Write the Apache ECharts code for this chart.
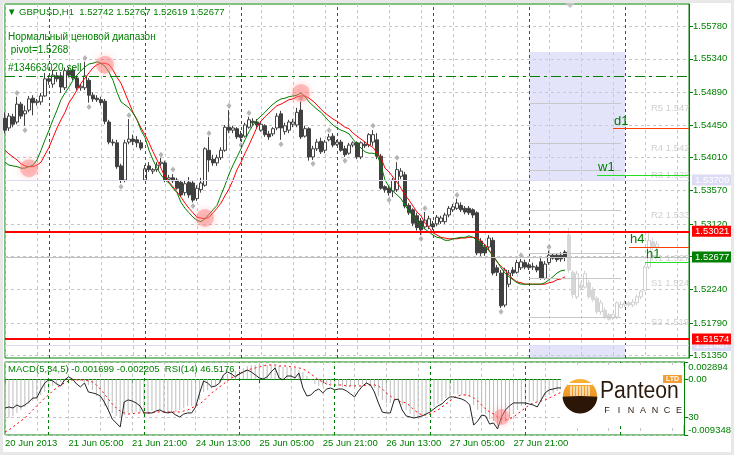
<!DOCTYPE html>
<html><head><meta charset="utf-8">
<script src="https://cdn.jsdelivr.net/npm/echarts@6/dist/echarts.min.js"></script>
<style>html,body{margin:0;padding:0;background:#fff;}#c{width:734px;height:455px;}</style>
</head><body><div id="c"></div>
<script>
// ---------- DATA ----------
const symbolTitle = 'GBPUSD,H1';
// candles [open, close, low, high], hourly bars from 20 Jun 2013 13:00
const candles = [
[1.5454,1.5438,1.5434,1.5462],[1.5441,1.5457,1.5437,1.5461],[1.5456,1.5446,1.5442,1.5460],[1.5449,1.5473,1.5446,1.5483],
[1.5473,1.5457,1.5453,1.5476],[1.5460,1.5464,1.5444,1.5471],[1.5465,1.5480,1.5462,1.5484],[1.5481,1.5475,1.5458,1.5485],
[1.5475,1.5477,1.5471,1.5480],[1.5476,1.5484,1.5472,1.5488],[1.5484,1.5507,1.5483,1.5515],[1.5507,1.5504,1.5499,1.5512],
[1.5500,1.5512,1.5495,1.5519],[1.5511,1.5507,1.5503,1.5516],[1.5511,1.5496,1.5488,1.5516],[1.5495,1.5518,1.5492,1.5522],
[1.5518,1.5512,1.5509,1.5523],[1.5519,1.5508,1.5505,1.5524],[1.5508,1.5495,1.5492,1.5512],[1.5495,1.5497,1.5491,1.5500],
[1.5495,1.5511,1.5492,1.5530],[1.5505,1.5485,1.5475,1.5508],[1.5485,1.5480,1.5476,1.5489],[1.5481,1.5479,1.5476,1.5485],
[1.5479,1.5475,1.5471,1.5483],[1.5477,1.5450,1.5446,1.5480],[1.5449,1.5422,1.5419,1.5452],[1.5422,1.5421,1.5417,1.5426],
[1.5421,1.5389,1.5386,1.5425],[1.5390,1.5371,1.5367,1.5393],[1.5371,1.5421,1.5368,1.5425],[1.5422,1.5426,1.5419,1.5453],
[1.5426,1.5423,1.5418,1.5432],[1.5425,1.5421,1.5415,1.5430],[1.5421,1.5414,1.5411,1.5425],[1.5371,1.5386,1.5370,1.5391],
[1.5390,1.5385,1.5382,1.5395],[1.5383,1.5385,1.5379,1.5387],[1.5385,1.5391,1.5382,1.5395],[1.5393,1.5395,1.5390,1.5401],
[1.5394,1.5371,1.5368,1.5397],[1.5372,1.5374,1.5368,1.5378],[1.5374,1.5370,1.5367,1.5379],[1.5371,1.5360,1.5358,1.5374],
[1.5368,1.5351,1.5348,1.5371],[1.5354,1.5366,1.5350,1.5371],[1.5368,1.5351,1.5347,1.5375],[1.5367,1.5344,1.5341,1.5371],
[1.5346,1.5360,1.5343,1.5364],[1.5358,1.5367,1.5354,1.5374],[1.5364,1.5413,1.5362,1.5415],[1.5411,1.5398,1.5382,1.5429],
[1.5399,1.5394,1.5390,1.5405],[1.5394,1.5401,1.5390,1.5405],[1.5401,1.5411,1.5398,1.5415],[1.5411,1.5442,1.5409,1.5445],
[1.5442,1.5438,1.5434,1.5465],[1.5438,1.5441,1.5434,1.5444],[1.5440,1.5429,1.5426,1.5442],[1.5432,1.5428,1.5423,1.5437],
[1.5430,1.5445,1.5428,1.5448],[1.5442,1.5452,1.5440,1.5456],[1.5450,1.5448,1.5444,1.5454],[1.5449,1.5445,1.5441,1.5453],
[1.5438,1.5446,1.5436,1.5450],[1.5444,1.5432,1.5429,1.5446],[1.5433,1.5429,1.5425,1.5437],[1.5433,1.5440,1.5430,1.5442],
[1.5441,1.5457,1.5438,1.5461],[1.5460,1.5441,1.5425,1.5464],[1.5436,1.5444,1.5432,1.5448],[1.5438,1.5449,1.5434,1.5452],
[1.5446,1.5449,1.5442,1.5453],[1.5445,1.5462,1.5442,1.5468],[1.5465,1.5429,1.5426,1.5476],[1.5430,1.5440,1.5428,1.5444],
[1.5440,1.5402,1.5397,1.5442],[1.5402,1.5413,1.5398,1.5417],[1.5413,1.5422,1.5410,1.5426],[1.5423,1.5409,1.5406,1.5428],
[1.5411,1.5422,1.5407,1.5425],[1.5425,1.5429,1.5423,1.5433],[1.5430,1.5418,1.5415,1.5434],[1.5419,1.5422,1.5417,1.5425],
[1.5422,1.5411,1.5409,1.5425],[1.5413,1.5405,1.5402,1.5417],[1.5407,1.5418,1.5405,1.5421],[1.5418,1.5421,1.5415,1.5423],
[1.5421,1.5402,1.5399,1.5423],[1.5402,1.5421,1.5399,1.5423],[1.5419,1.5417,1.5414,1.5423],[1.5418,1.5432,1.5415,1.5434],
[1.5422,1.5432,1.5417,1.5438],[1.5425,1.5403,1.5399,1.5434],[1.5403,1.5360,1.5358,1.5406],[1.5362,1.5358,1.5354,1.5364],
[1.5360,1.5354,1.5350,1.5363],[1.5356,1.5371,1.5348,1.5374],[1.5358,1.5385,1.5355,1.5395],[1.5376,1.5383,1.5372,1.5387],
[1.5378,1.5336,1.5333,1.5382],[1.5337,1.5327,1.5324,1.5340],[1.5331,1.5313,1.5309,1.5333],[1.5323,1.5307,1.5303,1.5327],
[1.5316,1.5304,1.5297,1.5320],[1.5308,1.5317,1.5305,1.5328],[1.5309,1.5319,1.5305,1.5323],[1.5312,1.5308,1.5304,1.5316],
[1.5312,1.5321,1.5309,1.5324],[1.5315,1.5320,1.5312,1.5323],[1.5315,1.5324,1.5312,1.5327],[1.5324,1.5333,1.5321,1.5336],
[1.5331,1.5335,1.5328,1.5339],[1.5333,1.5340,1.5331,1.5346],[1.5337,1.5331,1.5328,1.5341],[1.5333,1.5328,1.5325,1.5336],
[1.5333,1.5327,1.5324,1.5336],[1.5331,1.5324,1.5320,1.5333],[1.5327,1.5273,1.5270,1.5329],[1.5289,1.5273,1.5269,1.5293],
[1.5281,1.5273,1.5269,1.5285],[1.5281,1.5293,1.5277,1.5297],[1.5290,1.5246,1.5243,1.5294],[1.5253,1.5247,1.5242,1.5257],
[1.5246,1.5202,1.5199,1.5250],[1.5203,1.5250,1.5200,1.5253],[1.5231,1.5246,1.5227,1.5250],[1.5250,1.5246,1.5242,1.5254],
[1.5247,1.5260,1.5245,1.5264],[1.5253,1.5261,1.5250,1.5265],[1.5260,1.5254,1.5251,1.5264],[1.5257,1.5253,1.5250,1.5260],
[1.5254,1.5255,1.5250,1.5260],[1.5254,1.5250,1.5247,1.5257],[1.5261,1.5239,1.5237,1.5266],[1.5239,1.5258,1.5237,1.5262],
[1.5260,1.5270,1.5257,1.5276],[1.5270,1.5266,1.5264,1.5273],[1.5270,1.5264,1.5261,1.5273],[1.5270,1.5265,1.5261,1.5274],
[1.52742,1.52677,1.52619,1.52767]
];
// projected (ghost) candles starting at bar 141
const ghostStart = 141;
const ghostCandles = [
[1.5297,1.5250,1.5246,1.5307],[1.5247,1.5217,1.5212,1.5250],[1.5214,1.5245,1.5211,1.5249],[1.5230,1.5226,1.5222,1.5234],
[1.5227,1.5245,1.5225,1.5249],[1.5233,1.5214,1.5211,1.5237],[1.5223,1.5210,1.5207,1.5227],[1.5212,1.5194,1.5191,1.5215],
[1.5194,1.5206,1.5190,1.5210],[1.5196,1.5187,1.5184,1.5200],[1.5190,1.5184,1.5182,1.5192],[1.5186,1.5190,1.5183,1.5192],
[1.5187,1.5206,1.5184,1.5208],[1.5200,1.5204,1.5198,1.5208],[1.5203,1.5206,1.5200,1.5210],[1.5206,1.5203,1.5200,1.5208],
[1.5203,1.5207,1.5200,1.5211],[1.5206,1.5214,1.5203,1.5217],[1.5214,1.5221,1.5211,1.5223],[1.5223,1.5254,1.5221,1.5257],
[1.5254,1.5290,1.5251,1.5301],[1.5288,1.5281,1.5277,1.5294],[1.5281,1.5285,1.5277,1.5289]
];
const maFast = [
1.5395,1.5391,1.5390,1.5389,1.5387,1.5387,1.5389,1.5391,1.5398,1.5411,
1.5425,1.5438,1.5452,1.5465,1.5479,1.5488,1.5496,1.5505,1.5512,1.5518,
1.5523,1.5527,1.5528,1.5530,1.5528,1.5524,1.5516,1.5505,1.5489,1.5476,
1.5472,1.5468,1.5461,1.5452,1.5438,1.5428,1.5411,1.5398,1.5387,1.5378,
1.5371,1.5367,1.5360,1.5354,1.5341,1.5333,1.5327,1.5321,1.5317,1.5315,
1.5319,1.5325,1.5331,1.5337,1.5351,1.5364,1.5379,1.5391,1.5402,1.5413,
1.5425,1.5436,1.5445,1.5452,1.5457,1.5462,1.5468,1.5473,1.5477,1.5480,
1.5481,1.5483,1.5484,1.5485,1.5488,1.5483,1.5476,1.5471,1.5466,1.5462,
1.5456,1.5450,1.5445,1.5441,1.5438,1.5436,1.5433,1.5426,1.5419,1.5414,
1.5409,1.5407,1.5407,1.5405,1.5391,1.5371,1.5362,1.5356,1.5351,1.5346,
1.5337,1.5329,1.5323,1.5316,1.5309,1.5305,1.5301,1.5297,1.5294,1.5293,
1.5290,1.5290,1.5292,1.5293,1.5294,1.5294,1.5296,1.5294,1.5290,1.5285,
1.5281,1.5276,1.5269,1.5262,1.5253,1.5246,1.5241,1.5237,1.5233,1.5231,
1.5231,1.5231,1.5231,1.5231,1.5231,1.5233,1.5237,1.5241,1.5246,1.5249,
1.5250];
const maSlow = [
1.5411,1.5406,1.5402,1.5398,1.5393,1.5390,1.5389,1.5389,1.5391,1.5395,
1.5405,1.5415,1.5428,1.5441,1.5452,1.5462,1.5475,1.5483,1.5492,1.5501,
1.5508,1.5515,1.5522,1.5526,1.5528,1.5528,1.5526,1.5519,1.5509,1.5501,
1.5488,1.5475,1.5462,1.5452,1.5441,1.5432,1.5421,1.5409,1.5398,1.5387,
1.5375,1.5368,1.5362,1.5355,1.5348,1.5340,1.5333,1.5327,1.5321,1.5320,
1.5319,1.5321,1.5327,1.5333,1.5340,1.5350,1.5359,1.5371,1.5385,1.5395,
1.5407,1.5418,1.5430,1.5442,1.5450,1.5456,1.5461,1.5466,1.5471,1.5473,
1.5476,1.5479,1.5480,1.5483,1.5484,1.5484,1.5481,1.5477,1.5472,1.5466,
1.5461,1.5457,1.5453,1.5450,1.5446,1.5442,1.5440,1.5434,1.5430,1.5426,
1.5422,1.5418,1.5415,1.5407,1.5401,1.5387,1.5382,1.5375,1.5368,1.5360,
1.5351,1.5344,1.5336,1.5328,1.5323,1.5313,1.5307,1.5300,1.5297,1.5294,
1.5293,1.5292,1.5292,1.5292,1.5293,1.5293,1.5294,1.5294,1.5293,1.5289,
1.5284,1.5277,1.5269,1.5261,1.5255,1.5250,1.5243,1.5238,1.5234,1.5233,
1.5231,1.5231,1.5231,1.5231,1.5231,1.5231,1.5233,1.5234,1.5237,1.5238,
1.5241];
const macdHist = [
-0.00683,-0.00649,-0.00615,-0.00565,-0.00515,-0.00464,-0.00414,-0.00364,-0.00314,-0.00263,
-0.00213,-0.00163,-0.00112,-0.00079,-0.00045,-0.00029,-0.00012,-0.00012,-0.00012,-0.00029,
-0.00045,-0.00096,-0.00179,-0.00280,-0.00381,-0.00448,-0.00515,-0.00565,-0.00615,-0.00632,
-0.00599,-0.00565,-0.00548,-0.00548,-0.00565,-0.00582,-0.00565,-0.00532,-0.00515,-0.00515,
-0.00548,-0.00565,-0.00565,-0.00548,-0.00515,-0.00481,-0.00448,-0.00448,-0.00414,-0.00347,
-0.00213,-0.00179,-0.00146,-0.00112,-0.00045,0.00039,0.00089,0.00122,0.00139,0.00156,
0.00190,0.00223,0.00240,0.00240,0.00257,0.00257,0.00240,0.00240,0.00223,0.00223,
0.00206,0.00206,0.00190,0.00190,0.00156,0.00122,0.00055,-0.00012,-0.00079,-0.00112,
-0.00112,-0.00096,-0.00079,-0.00096,-0.00112,-0.00129,-0.00129,-0.00112,-0.00112,-0.00096,
-0.00079,-0.00079,-0.00096,-0.00146,-0.00280,-0.00347,-0.00397,-0.00397,-0.00347,-0.00347,
-0.00431,-0.00515,-0.00582,-0.00632,-0.00666,-0.00632,-0.00582,-0.00532,-0.00464,-0.00414,
-0.00364,-0.00314,-0.00280,-0.00247,-0.00247,-0.00263,-0.00280,-0.00297,-0.00431,-0.00515,
-0.00565,-0.00582,-0.00666,-0.00699,-0.00783,-0.00750,-0.00699,-0.00649,-0.00582,-0.00515,
-0.00448,-0.00414,-0.00381,-0.00364,-0.00381,-0.00347,-0.00297,-0.00263,-0.00230,-0.00196,
-0.001699];
const macdSignal = [
-0.00884,-0.00850,-0.00800,-0.00750,-0.00699,-0.00649,-0.00582,-0.00515,-0.00448,-0.00381,
-0.00314,-0.00263,-0.00196,-0.00146,-0.00096,-0.00062,-0.00029,-0.00012,-0.00012,-0.00012,
-0.00012,-0.00029,-0.00045,-0.00096,-0.00163,-0.00247,-0.00330,-0.00414,-0.00481,-0.00532,
-0.00565,-0.00582,-0.00582,-0.00565,-0.00565,-0.00565,-0.00565,-0.00565,-0.00548,-0.00548,
-0.00548,-0.00548,-0.00548,-0.00548,-0.00548,-0.00532,-0.00515,-0.00481,-0.00448,-0.00414,
-0.00364,-0.00297,-0.00230,-0.00179,-0.00129,-0.00079,-0.00029,0.00022,0.00055,0.00089,
0.00122,0.00156,0.00173,0.00190,0.00206,0.00223,0.00240,0.00240,0.00240,0.00223,
0.00223,0.00223,0.00206,0.00206,0.00190,0.00173,0.00139,0.00089,0.00039,-0.00012,
-0.00045,-0.00079,-0.00096,-0.00096,-0.00096,-0.00096,-0.00112,-0.00112,-0.00112,-0.00112,
-0.00112,-0.00096,-0.00096,-0.00096,-0.00112,-0.00163,-0.00230,-0.00280,-0.00330,-0.00364,
-0.00381,-0.00397,-0.00448,-0.00515,-0.00565,-0.00599,-0.00599,-0.00582,-0.00548,-0.00515,
-0.00464,-0.00414,-0.00364,-0.00314,-0.00280,-0.00263,-0.00263,-0.00280,-0.00314,-0.00364,
-0.00431,-0.00498,-0.00548,-0.00582,-0.00632,-0.00666,-0.00683,-0.00666,-0.00632,-0.00582,
-0.00532,-0.00481,-0.00431,-0.00397,-0.00381,-0.00364,-0.00347,-0.00314,-0.00280,-0.00247,
-0.002205];
const rsi = [
35.1,35.7,35.1,36.8,35.7,36.8,38.5,40.8,40.8,45.4,
49.3,51.1,50.5,48.8,47.6,51.1,52.8,51.6,48.8,47.1,
49.3,44.2,43.7,43.1,41.9,38.5,34.0,28.9,26.6,24.3,
38.5,39.7,39.1,38.0,36.3,32.3,32.3,32.3,33.4,34.0,
32.8,32.3,32.8,31.1,30.0,31.7,32.3,32.3,35.7,43.7,
50.5,49.3,47.1,47.6,49.3,53.9,55.6,54.5,52.8,54.5,
55.6,56.7,55.6,53.9,52.2,51.6,52.8,55.6,57.9,52.2,
51.1,53.3,53.3,52.2,55.0,46.5,41.9,42.5,44.8,45.9,
43.7,45.9,46.5,45.4,45.9,45.9,44.8,43.1,41.4,44.8,
47.6,49.3,48.2,44.2,38.0,32.8,32.3,32.3,39.7,40.2,
34.0,30.6,30.0,29.4,30.0,30.6,31.7,32.8,34.6,36.3,
37.4,39.7,41.4,41.4,40.8,40.2,39.1,36.8,25.4,27.7,
31.1,30.6,26.0,26.6,23.2,30.0,34.0,36.3,38.0,38.0,
38.0,38.0,37.4,36.8,35.7,39.7,43.7,45.4,45.9,46.5,
46.5176];
const fractalsUp = [[3,1.5488],[20,1.5535],[31,1.5458],[39,1.5405],[42,1.5385],[51,1.5434],[56,1.5471],[61,1.5461],[74,1.5481],[81,1.5438],[92,1.5444],[98,1.5401],[105,1.5333],[113,1.5351],[129,1.5270],[136,1.5281]];
const fractalsDown = [[5,1.5438],[21,1.5469],[29,1.5362],[47,1.5336],[59,1.5418],[69,1.5419],[77,1.5393],[85,1.5397],[96,1.5344],[104,1.5292],[124,1.5194]];
const crossMarks = [[6,1.5387],[25,1.5526],[50,1.5320],[74,1.5488]];
const subCrossMarks = [[125,30]];
const priceTicks = [1.51350,1.51790,1.52240,1.52680,1.53120,1.53570,1.54010,1.54450,1.54890,1.55340,1.55780];
const hiddenPriceLabels = [1.52680];
const xTickLabels = ['20 Jun 2013','21 Jun 05:00','21 Jun 21:00','24 Jun 13:00','25 Jun 05:00','25 Jun 21:00','26 Jun 13:00','27 Jun 05:00','27 Jun 21:00'];
const barsPerXLabel = 16;
const daySeparators = [11,35,59,83,107,131,155];
const totalBars = 172;
const orderPrice = 1.5511, orderLabel = '#134663020 sell';
const redLevels = [1.53021,1.51574];
const rangeHigh = 1.53709, rangeLow = 1.51487, rangeBoxTop = 1.5543;
const rangeFromBar = 131, rangeToBar = 155;
const pivotNames = ['R5','R4','R3','R2','R1','S1','S2'];
const pivotValues = [1.5474,1.5420,1.5384,1.5330,1.5273,1.5239,1.5186];
const pivotFromBar = 131, pivotToBar = 154, pivotLabelBar = 161;
const pivotValue = 1.5268;
const tfNames = ['d1','w1','h4','h1'];
const tfStartBars = [152,148,156,160];
const tfValues = [1.5440,1.5378,1.5281,1.5261];
const yMin = 1.51318, yMax = 1.56076;
const macdMin = -0.009348, macdMax = 0.002894;
const rsiMin = 19.77, rsiMax = 61.25, rsiLevel = 30;

// ---------- STYLE ----------
const FONT = 'Liberation Sans, Arial, sans-serif';
const GREEN = '#008000';
const GRIDC = '#c6c6c6';
const LAV = '#dcdcf4';
const tfColors = ['#ff4000','#22dd22','#ff4000','#22dd22'];
const last = candles[candles.length - 1];
const lastClose = last[1];

const cats = Array.from({length: totalBars}, (_, i) => String(i));
const showX = i => i % barsPerXLabel === 0 && i / barsPerXLabel < xTickLabels.length;

const markLines = [];
daySeparators.forEach(b => markLines.push({xAxis: b, lineStyle: {color: GREEN, type: [3,3], width: 1}, label: {show: false}}));
markLines.push({yAxis: rangeHigh, lineStyle: {color: LAV, type: 'solid', width: 1}, label: {show: false}});
markLines.push({yAxis: rangeLow, lineStyle: {color: LAV, type: 'solid', width: 1}, label: {show: false}});
markLines.push({yAxis: lastClose, lineStyle: {color: '#c0c0c0', type: 'solid', width: 1}, label: {show: false}});
redLevels.forEach(v => markLines.push({yAxis: v, lineStyle: {color: '#ff0000', type: 'solid', width: 2}, label: {show: false}}));
markLines.push({yAxis: orderPrice, lineStyle: {color: GREEN, type: [10,4,3,4], width: 1},
  label: {show: true, position: 'insideStartTop', formatter: orderLabel, color: GREEN, fontSize: 10, distance: 3}});
pivotValues.forEach(v => markLines.push([
  {coord: [pivotFromBar, v], lineStyle: {color: '#c8c8c8', type: 'solid', width: 1}, label: {show: false}},
  {coord: [pivotToBar, v]}]));
tfNames.forEach((n, k) => markLines.push([
  {coord: [tfStartBars[k], tfValues[k]], lineStyle: {color: tfColors[k], type: 'solid', width: 1},
   label: {show: true, position: 'insideStartTop', formatter: n, color: GREEN, fontSize: 13, distance: 1}},
  {coord: [totalBars - 1, tfValues[k]]}]));

const ghostData = ghostCandles.map((c, k) => [ghostStart + k].concat(c));
const mainData = candles.map((c, k) => [k].concat(c));

const logo = [];
logo.push({type: 'rect', shape: {x: 561, y: 366, width: 123, height: 59}, style: {fill: '#ffffff'}, z: 50});
logo.push({type: 'circle', shape: {cx: 580, cy: 396, r: 17},
  style: {fill: new echarts.graphic.LinearGradient(0, 0, 0, 1, [{offset: 0, color: '#f9b535'}, {offset: 1, color: '#e4721a'}])}, z: 51});
logo.push({type: 'sector', shape: {cx: 580, cy: 396, r: 17.5, r0: 0, startAngle: 0.05, endAngle: Math.PI - 0.05}, style: {fill: '#2b1608'}, z: 52});
for (let k = 0; k < 7; k++) logo.push({type: 'line', shape: {x1: 571 + k * 3, y1: 386, x2: 571 + k * 3, y2: 396}, style: {stroke: '#ffffff', lineWidth: 1.2}, z: 53});
logo.push({type: 'rect', shape: {x: 568, y: 383, width: 24, height: 2}, style: {fill: '#ffffff'}, z: 53});
logo.push({type: 'text', x: 600, y: 380, style: {text: 'Panteon', fontSize: 23, fontFamily: FONT, fill: '#2b1a0e', verticalAlign: 'top'}, scaleX: 0.92, z: 53});
'FINANCE'.split('').forEach((ch, k) => logo.push({type: 'text', x: 607 + k * 12, y: 406, style: {text: ch, fontSize: 9, fontFamily: FONT, fill: '#2b1a0e', verticalAlign: 'top', align: 'center'}, z: 53}));
logo.push({type: 'rect', shape: {x: 663, y: 375, width: 19, height: 8}, style: {fill: '#f39b35'}, z: 54});
logo.push({type: 'text', x: 672.5, y: 376, style: {text: 'LTD', fontSize: 7, fontFamily: FONT, fill: '#fff', verticalAlign: 'top', align: 'center', fontWeight: 'bold'}, z: 55});

const chart = echarts.init(document.getElementById('c'), null, {renderer: 'canvas'});
chart.setOption({
  animation: false,
  backgroundColor: '#ffffff',
  textStyle: {fontFamily: FONT},
  title: [
    {text: '\u25BC ' + symbolTitle + '  ' + [last[0], last[3], last[2], last[1]].map(v => v.toFixed(5)).join(' '),
     left: 7, top: 7, padding: 0, textStyle: {fontSize: 9.5, color: GREEN, fontWeight: 'normal', fontFamily: FONT}},
    {text: 'Нормальный ценовой диапазон\n pivot=' + pivotValue.toFixed(4), left: 8, top: 31, padding: 0,
     textStyle: {fontSize: 10, lineHeight: 13, color: GREEN, fontWeight: 'normal', fontFamily: FONT}},
    {text: 'MACD(5,34,5) ' + macdHist[macdHist.length - 1].toFixed(6) + ' ' + macdSignal[macdSignal.length - 1].toFixed(6) + '  RSI(14) ' + rsi[rsi.length - 1].toFixed(4),
     left: 8, top: 364, padding: 0, textStyle: {fontSize: 9.5, color: GREEN, fontWeight: 'normal', fontFamily: FONT}}
  ],
  grid: [
    {left: 5, top: 4, width: 684, height: 354, show: true, borderColor: GREEN, borderWidth: 1, backgroundColor: '#fff'},
    {left: 5, top: 362, width: 684, height: 73, show: true, borderColor: GREEN, borderWidth: 1, backgroundColor: '#fff'}
  ],
  xAxis: [
    {type: 'category', gridIndex: 0, data: cats, boundaryGap: false,
     axisLine: {show: false}, axisTick: {show: false}, axisLabel: {show: false},
     splitLine: {show: true, interval: 7, lineStyle: {color: GRIDC, type: [3,3], width: 1}}},
    {type: 'category', gridIndex: 1, data: cats, boundaryGap: false,
     axisLine: {show: true, lineStyle: {color: GREEN}},
     axisTick: {show: true, length: 4, interval: showX, lineStyle: {color: GREEN}},
     axisLabel: {show: true, interval: showX, formatter: (v, i) => xTickLabels[i / barsPerXLabel] || '', align: 'left', margin: 3, color: GREEN, fontSize: 9.5, fontFamily: FONT},
     splitLine: {show: true, interval: 7, lineStyle: {color: GRIDC, type: [3,3], width: 1}}}
  ],
  yAxis: [
    {type: 'value', gridIndex: 0, position: 'right', min: yMin, max: yMax,
     axisLine: {show: true, lineStyle: {color: GREEN}},
     axisTick: {show: true, length: 4, customValues: priceTicks, lineStyle: {color: GREEN}},
     axisLabel: {customValues: priceTicks.filter(v => !hiddenPriceLabels.includes(v)), formatter: v => v.toFixed(5), color: GREEN, fontSize: 9.5, margin: 4, fontFamily: FONT},
     splitLine: {show: true, lineStyle: {color: GRIDC, type: [3,3], width: 1}}},
    {type: 'value', gridIndex: 1, position: 'right', min: macdMin, max: macdMax,
     axisLine: {show: true, lineStyle: {color: GREEN}},
     axisTick: {show: true, length: 4, customValues: [macdMax, 0, macdMin], lineStyle: {color: GREEN}},
     axisLabel: {customValues: [macdMax, 0, macdMin], formatter: v => v === 0 ? '0.00' : v.toFixed(6), color: GREEN, fontSize: 9.5, margin: 4, fontFamily: FONT,
                 verticalAlignMaxLabel: 'bottom', verticalAlignMinLabel: 'top'},
     splitLine: {show: true, lineStyle: {color: GRIDC, type: [3,3], width: 1}}},
    {type: 'value', gridIndex: 1, position: 'right', min: rsiMin, max: rsiMax,
     axisLine: {show: false},
     axisTick: {show: true, length: 4, customValues: [rsiLevel], lineStyle: {color: GREEN}},
     axisLabel: {customValues: [rsiLevel], formatter: v => String(v), color: GREEN, fontSize: 9.5, margin: 4, fontFamily: FONT},
     splitLine: {show: true, lineStyle: {color: GRIDC, type: [3,3], width: 1}}}
  ],
  series: [
    {type: 'candlestick', name: 'ghost', xAxisIndex: 0, yAxisIndex: 0, data: ghostData, encode: {x: 0, y: [1,2,3,4]}, barWidth: 3, z: 1,
     itemStyle: {color: '#ffffff', color0: '#d6d6d6', borderColor: '#d0d0d0', borderColor0: '#d6d6d6', borderWidth: 1}},
    {type: 'candlestick', name: symbolTitle, xAxisIndex: 0, yAxisIndex: 0, data: mainData, encode: {x: 0, y: [1,2,3,4]}, barWidth: 3, z: 3,
     itemStyle: {color: '#ffffff', color0: '#404040', borderColor: '#404040', borderColor0: '#404040', borderWidth: 1},
     markArea: {silent: true, itemStyle: {color: 'rgba(200,200,245,0.5)'}, data: [
       [{coord: [rangeFromBar, rangeBoxTop]}, {coord: [rangeToBar, rangeHigh]}],
       [{coord: [rangeFromBar, rangeLow]}, {coord: [rangeToBar, yMin]}]]},
     markLine: {silent: true, symbol: ['none','none'], precision: 6, animation: false, data: markLines}},
    {type: 'line', name: 'slow', xAxisIndex: 0, yAxisIndex: 0, data: maSlow, showSymbol: false, z: 4, lineStyle: {color: '#ff0000', width: 1}},
    {type: 'line', name: 'fast', xAxisIndex: 0, yAxisIndex: 0, data: maFast, showSymbol: false, z: 4, lineStyle: {color: GREEN, width: 1}},
    {type: 'scatter', name: 'fractals', xAxisIndex: 0, yAxisIndex: 0, data: fractalsUp.concat(fractalsDown), symbol: 'diamond', symbolSize: [5,6], z: 4, itemStyle: {color: '#a4a4a4'}},
    {type: 'scatter', name: 'cross', xAxisIndex: 0, yAxisIndex: 0, data: crossMarks, symbolSize: 18, z: 5,
     itemStyle: {color: 'rgba(255,120,120,0.55)', shadowBlur: 8, shadowColor: 'rgba(255,100,100,0.6)'}},
    {type: 'scatter', name: 'pivotLabels', xAxisIndex: 0, yAxisIndex: 0, data: pivotValues.map((v, k) => [pivotLabelBar, v, pivotNames[k]]), symbolSize: 0, z: 4,
     label: {show: true, position: 'right', distance: 2, offset: [0, 5], formatter: p => p.data[2] + ' ' + p.data[1].toFixed(3), color: '#c4c4c4', fontSize: 9.5, fontFamily: FONT}},
    {type: 'bar', name: 'MACD', xAxisIndex: 1, yAxisIndex: 1, data: macdHist, barWidth: 1, z: 2, itemStyle: {color: '#bcbcbc'},
     markLine: {silent: true, symbol: ['none','none'], animation: false, label: {show: false},
       data: daySeparators.map(b => ({xAxis: b, lineStyle: {color: GREEN, type: [3,3], width: 1}}))}},
    {type: 'line', name: 'Signal', xAxisIndex: 1, yAxisIndex: 1, data: macdSignal, showSymbol: false, z: 3, lineStyle: {color: '#ff0000', width: 1, type: [2,3]}},
    {type: 'line', name: 'RSI', xAxisIndex: 1, yAxisIndex: 2, data: rsi, showSymbol: false, z: 4, lineStyle: {color: '#222222', width: 1}},
    {type: 'scatter', name: 'subCross', xAxisIndex: 1, yAxisIndex: 2, data: subCrossMarks, symbolSize: 16, z: 5,
     itemStyle: {color: 'rgba(255,120,120,0.55)', shadowBlur: 8, shadowColor: 'rgba(255,100,100,0.6)'}}
  ],
  graphic: [
    {type: 'rect', shape: {x: 1.5, y: 1.5, width: 731, height: 452}, style: {fill: null, stroke: '#e8e8e8', lineWidth: 3}, z: 40},
    {type: 'polygon', shape: {points: [[565, 3], [575, 3], [570, 8]]}, style: {fill: '#c4c4c4'}, z: 40}
  ].concat(logo)
});

// right-edge price boxes, positioned through the price axis; red and green above lavender
const rightEdge = chart.convertToPixel({xAxisIndex: 0}, totalBars - 1);
const boxLevels = [[rangeHigh, LAV, 30], [rangeLow, LAV, 30], [lastClose, GREEN, 32]]
  .concat(redLevels.map(v => [v, '#ff0000', 32]));
const priceBoxes = boxLevels.map(([v, bg, z], k) => ({
  type: 'text', id: 'priceBox' + k, z: z,
  x: rightEdge + 3, y: chart.convertToPixel({yAxisIndex: 0}, v),
  style: {text: v.toFixed(5), fontSize: 9.5, fontFamily: FONT, fill: '#ffffff', backgroundColor: bg,
          padding: [1, 3, 0, 3], lineHeight: 10, verticalAlign: 'middle', align: 'left'}
}));
chart.setOption({graphic: priceBoxes});
</script></body></html>
